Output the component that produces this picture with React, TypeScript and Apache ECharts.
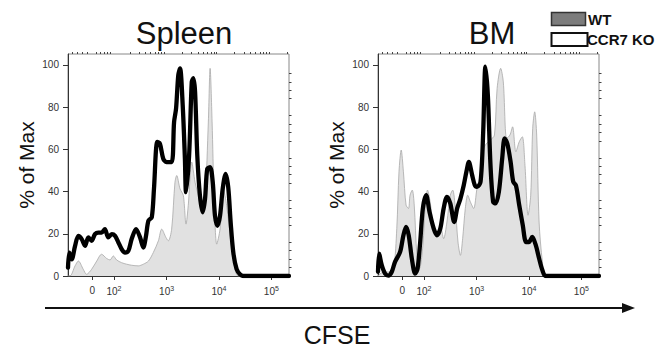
import React, { useEffect, useRef } from "react";
import * as echarts from "echarts";

// ---- Data (x = display channel on a biexponential CFSE scale, y = % of Max) ----
const spleenWtX = [0, 9, 32, 47, 69, 84, 107, 130, 152, 175, 190, 205, 220, 243, 265, 288, 318, 341, 364, 386, 409, 424, 443, 454, 469, 484, 492, 507, 522, 534, 544, 560, 575, 590, 605, 620, 635, 643, 652, 661, 673, 688, 703, 718, 741, 756, 771, 1000];
const spleenWtY = [0, 0, 4.8, 7.1, 3.2, 0.8, 3.2, 7.1, 10.3, 8.3, 7.6, 9.5, 7.6, 6.3, 5.6, 5.1, 4.8, 5.6, 7.1, 11.1, 16.7, 22.2, 18.3, 16.7, 22.2, 44.4, 47.6, 41.3, 38.1, 24.6, 33.3, 54, 44.4, 38.1, 30.2, 36.5, 73, 98.4, 73, 38.1, 15.1, 22.2, 41.3, 33.3, 12.7, 3.2, 0, 0];

const spleenKoX = [0, 6, 17, 32, 47, 62, 77, 92, 107, 122, 137, 152, 167, 182, 198, 213, 228, 243, 258, 273, 288, 308, 326, 341, 353, 364, 379, 389, 404, 416, 431, 446, 469, 480, 489, 499, 507, 519, 529, 534, 548, 560, 567, 575, 585, 597, 609, 620, 630, 643, 655, 665, 676, 688, 700, 713, 725, 736, 748, 763, 778, 793, 1000];
const spleenKoY = [4, 11.1, 7.9, 14.3, 19, 17.5, 14.3, 18.3, 16.7, 19.8, 20.6, 20.6, 22.2, 18.3, 19.8, 19, 15.9, 12.7, 11.1, 11.9, 17.5, 22.2, 18.3, 13.5, 19, 26.2, 27.8, 41.3, 63.5, 62.7, 55.6, 54, 54, 73, 79.4, 95.2, 98.4, 81, 55.6, 39.7, 57.1, 92, 93.7, 87.3, 57.1, 38.1, 30.2, 36.5, 50.8, 51.6, 44.4, 28.6, 23.8, 28.6, 41.3, 48.4, 42.1, 25.4, 11.1, 3.2, 0.8, 0, 0];

const bmWtX = [0, 2, 24, 47, 70, 85, 95, 105, 115, 127, 138, 145, 155, 164, 176, 188, 203, 214, 224, 236, 252, 267, 282, 297, 312, 327, 338, 350, 362, 373, 383, 395, 406, 418, 433, 448, 464, 479, 491, 509, 527, 539, 555, 567, 582, 597, 609, 624, 639, 653, 665, 679, 691, 700, 709, 718, 729, 744, 759, 1000];
const bmWtY = [0, 0, 1.9, 1.9, 3.5, 22.5, 49.4, 59.7, 49.4, 33.6, 32, 38.3, 40.7, 33.6, 9.8, 3.5, 14.6, 33.6, 40.7, 35.1, 22.5, 19.3, 24.1, 17.7, 25.6, 38.3, 40.7, 32, 16.1, 9.8, 17.7, 32, 38.3, 35.1, 32, 41.5, 47.8, 60.5, 62.8, 64.4, 66.8, 88.9, 98.4, 92, 65.2, 66.8, 70.7, 58.9, 63.6, 66, 52.5, 28.8, 38.3, 70, 77.8, 66.8, 25.6, 6.7, 0, 0];

const bmKoX = [0, 5, 17, 32, 47, 62, 77, 100, 115, 127, 139, 153, 168, 179, 191, 203, 218, 233, 252, 267, 282, 297, 312, 327, 345, 358, 373, 388, 400, 411, 426, 438, 448, 464, 476, 486, 497, 509, 521, 532, 547, 562, 573, 585, 600, 612, 624, 639, 655, 670, 683, 698, 714, 729, 744, 759, 1000];
const bmKoY = [2, 10.6, 5.1, 1.1, 0.2, 1.9, 6.7, 11.4, 19.3, 23.3, 19.3, 8.3, 1.1, 3.5, 16.1, 32, 38.3, 30.4, 22.5, 19.3, 22.5, 32, 37.5, 34.4, 25.6, 32, 36.7, 43, 49.4, 54.1, 47.8, 43, 42.2, 44.6, 68.3, 99.2, 85.8, 52.5, 35.1, 34.4, 39.9, 55.7, 65.2, 62.8, 54.1, 44.6, 43, 33.6, 24.1, 16.1, 16.1, 18.5, 14.6, 8.3, 2.7, 0, 0];

// ---- Axis ticks / labels ----
const panelTitles = ["Spleen", "BM"];
const legendLabels = ["WT", "CCR7 KO"];
const yTickValues = [0, 20, 40, 60, 80, 100];
const yMinorTicks = [4, 8, 12, 16, 24, 28, 32, 36, 44, 48, 52, 56, 64, 68, 72, 76, 84, 88, 92, 96];
const xTickChannels = [110, 208, 446, 683, 920];
const xTickBase = ["0", "10", "10", "10", "10"];
const xTickExp = ["", "2", "3", "4", "5"];
const xLinearMinor = [18, 42, 66, 88, 130, 148, 163, 178, 193];
const decadeWidth = 237.5;

const xMinorTicks: number[] = (() => {
  const out = [...xLinearMinor];
  [208, 446, 683, 920].forEach((d) => {
    for (let m = 2; m <= 9; m++) {
      const c = d + decadeWidth * Math.log10(m);
      if (c < 1000) out.push(c);
    }
  });
  return out;
})();

const FONT = "'Liberation Sans', Arial, Helvetica, sans-serif";
const zip = (xs: number[], ys: number[]) =>
  xs.slice(0, Math.min(xs.length, ys.length)).map((x, i) => [x, ys[i]]);

const Y_MAX = 105.2;

function makeAxes(gridIndex: number) {
  const xMajor = {
    type: "value",
    gridIndex,
    min: 0,
    max: 1000,
    splitLine: { show: false },
    axisLine: { show: true, onZero: false, lineStyle: { color: "#333", width: 1 } },
    axisTick: { show: true, customValues: xTickChannels, length: 4, lineStyle: { color: "#333" } },
    axisLabel: {
      show: true,
      customValues: xTickChannels,
      margin: 9,
      formatter: (v: number) => {
        let idx = 0;
        let best = Infinity;
        xTickChannels.forEach((c, i) => {
          if (Math.abs(c - v) < best) {
            best = Math.abs(c - v);
            idx = i;
          }
        });
        return xTickExp[idx] ? `{b|${xTickBase[idx]}}{s|${xTickExp[idx]}}` : `{b|${xTickBase[idx]}}`;
      },
      rich: {
        b: { fontSize: 10, color: "#333", fontFamily: FONT },
        s: { fontSize: 7, color: "#333", fontFamily: FONT, padding: [0, 0, 6, 0] },
      },
    },
  };
  const xMinor = {
    type: "value",
    gridIndex,
    min: 0,
    max: 1000,
    splitLine: { show: false },
    axisLine: { show: false, onZero: false },
    axisTick: { show: true, customValues: xMinorTicks, length: 2, lineStyle: { color: "#444" } },
    axisLabel: { show: false },
  };
  const yMajor = {
    type: "value",
    gridIndex,
    min: 0,
    max: Y_MAX,
    splitLine: { show: false },
    axisLine: { show: true, onZero: false, lineStyle: { color: "#333", width: 1 } },
    axisTick: { show: true, customValues: yTickValues, length: 5, lineStyle: { color: "#333" } },
    axisLabel: {
      show: true,
      customValues: yTickValues,
      fontSize: 10,
      color: "#333",
      fontFamily: FONT,
      margin: 9,
    },
    name: "% of Max",
    nameLocation: "middle",
    nameGap: 31,
    nameTextStyle: { fontSize: 21, color: "#111", fontFamily: FONT },
  };
  const yMinor = {
    type: "value",
    gridIndex,
    min: 0,
    max: Y_MAX,
    splitLine: { show: false },
    axisLine: { show: false, onZero: false },
    axisTick: { show: true, customValues: yMinorTicks, length: 2.5, lineStyle: { color: "#444" } },
    axisLabel: { show: false },
  };
  return { xMajor, xMinor, yMajor, yMinor };
}

function makeSeries(axisIndex: number, wt: number[][], ko: number[][]) {
  return [
    {
      type: "line",
      name: legendLabels[0],
      xAxisIndex: axisIndex,
      yAxisIndex: axisIndex,
      data: wt,
      smooth: 0.3,
      showSymbol: false,
      symbol: "none",
      lineStyle: { color: "#a8a8a8", width: 0.8 },
      areaStyle: { color: "#e1e1e1", opacity: 1 },
      z: 2,
    },
    {
      type: "line",
      name: legendLabels[1],
      xAxisIndex: axisIndex,
      yAxisIndex: axisIndex,
      data: ko,
      smooth: 0.3,
      showSymbol: false,
      symbol: "none",
      lineStyle: { color: "#000", width: 4.3, cap: "round", join: "round" },
      z: 3,
    },
  ];
}

export default function App() {
  const ref = useRef<HTMLDivElement>(null);

  useEffect(() => {
    if (!ref.current) return;
    const chart = echarts.init(ref.current, undefined, { renderer: "svg" });
    const a0 = makeAxes(0);
    const a1 = makeAxes(1);

    const option: any = {
      animation: false,
      backgroundColor: "#ffffff",
      textStyle: { fontFamily: FONT },
      grid: [
        { left: 68, top: 54, width: 221, height: 222, show: true, borderColor: "#888", borderWidth: 1, backgroundColor: "transparent" },
        { left: 378, top: 54, width: 221, height: 222, show: true, borderColor: "#888", borderWidth: 1, backgroundColor: "transparent" },
      ],
      xAxis: [a0.xMajor, a0.xMinor, a1.xMajor, a1.xMinor],
      yAxis: [a0.yMajor, a0.yMinor, a1.yMajor, a1.yMinor],
      series: [
        ...makeSeries(0, zip(spleenWtX, spleenWtY), zip(spleenKoX, spleenKoY)),
        ...makeSeries(2, zip(bmWtX, bmWtY), zip(bmKoX, bmKoY)),
      ],
      graphic: [
        { type: "text", x: 184, y: 33, style: { text: panelTitles[0], fontSize: 31, fontFamily: FONT, fill: "#111", textAlign: "center", textVerticalAlign: "middle" } },
        { type: "text", x: 492, y: 33, style: { text: panelTitles[1], fontSize: 31, fontFamily: FONT, fill: "#111", textAlign: "center", textVerticalAlign: "middle" } },
        { type: "rect", shape: { x: 551.5, y: 12.5, width: 34, height: 13 }, style: { fill: "#7c7c7c", stroke: "#333", lineWidth: 1.5 } },
        { type: "text", x: 588, y: 19.5, style: { text: legendLabels[0], fontSize: 15, fontWeight: "bold", fontFamily: FONT, fill: "#111", textAlign: "left", textVerticalAlign: "middle" } },
        { type: "rect", shape: { x: 551.5, y: 33, width: 36, height: 13 }, style: { fill: "#fff", stroke: "#111", lineWidth: 2 } },
        { type: "text", x: 587, y: 39.5, style: { text: legendLabels[1], fontSize: 15, fontWeight: "bold", fontFamily: FONT, fill: "#111", textAlign: "left", textVerticalAlign: "middle" } },
        { type: "line", shape: { x1: 45, y1: 308, x2: 626, y2: 308 }, style: { stroke: "#111", lineWidth: 2 } },
        { type: "polygon", shape: { points: [[622, 303], [635, 308], [622, 313]] }, style: { fill: "#111" } },
        { type: "text", x: 337, y: 335, style: { text: "CFSE", fontSize: 25, fontFamily: FONT, fill: "#111", textAlign: "center", textVerticalAlign: "middle" } },
      ],
    };
    chart.setOption(option);
    return () => chart.dispose();
  }, []);

  return (
    <div
      ref={ref}
      style={{ position: "fixed", left: 0, top: 0, width: 663, height: 350, background: "#fff" }}
    />
  );
}
